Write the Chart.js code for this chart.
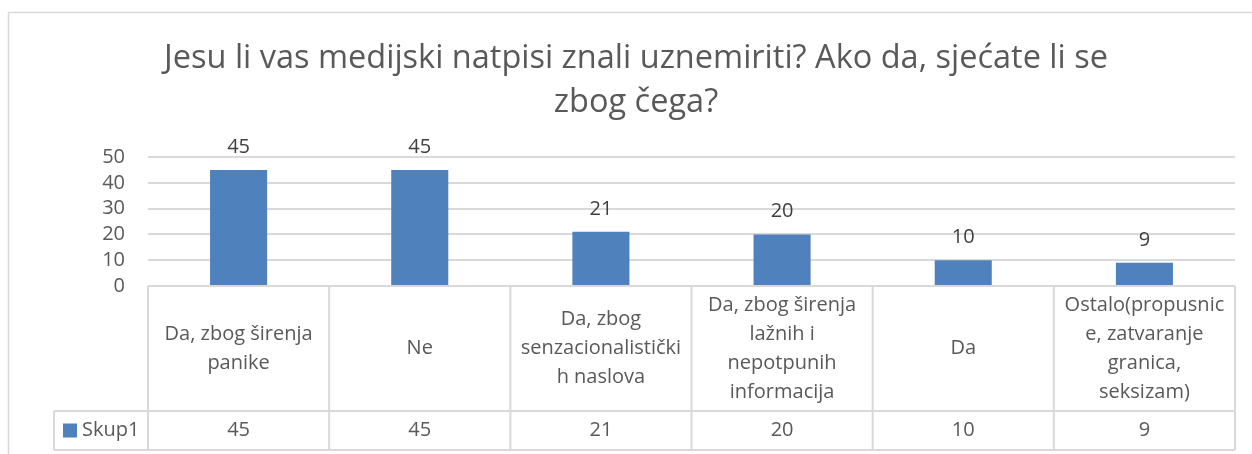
<!DOCTYPE html>
<html>
<head>
<meta charset="utf-8">
<script src="https://cdn.jsdelivr.net/npm/chart.js@4"></script>
<style>
  html, body { margin: 0; padding: 0; background: #ffffff; }
  #wrap { width: 1252px; height: 454px; }
</style>
</head>
<body>
<div id="wrap"><canvas id="chart" width="1252" height="454"></canvas></div>
<script>
// podaci
const titleLines = ['Jesu li vas medijski natpisi znali uznemiriti? Ako da, sjećate li se', 'zbog čega?'];
const categories = [
  ['Da, zbog širenja', 'panike'],
  ['Ne'],
  ['Da, zbog', 'senzacionalistički', 'h naslova'],
  ['Da, zbog širenja', 'lažnih i', 'nepotpunih', 'informacija'],
  ['Da'],
  ['Ostalo(propusnic', 'e, zatvaranje', 'granica,', 'seksizam)']
];
const seriesName = 'Skup1';
const values = [45, 45, 21, 20, 10, 9];
const yTicks = [0, 10, 20, 30, 40, 50];

const FONT = '"Open Sans", "Liberation Sans", sans-serif';
const TEXT = '#595959';
const LINE = '#d9d9d9';
const BAR = '#4f81bd';

// okvir i naslov
const framePlugin = {
  id: 'frame',
  beforeDraw(chart) {
    const ctx = chart.ctx;
    ctx.save();
    ctx.strokeStyle = LINE;
    ctx.lineWidth = 1.5;
    ctx.beginPath();
    ctx.moveTo(8.5, 454);
    ctx.lineTo(8.5, 12.5);
    ctx.lineTo(1252, 12.5);
    ctx.stroke();

    ctx.fillStyle = TEXT;
    ctx.font = '32.5px ' + FONT;
    ctx.textAlign = 'center';
    ctx.textBaseline = 'alphabetic';
    ctx.fillText(titleLines[0], 636, 68);
    ctx.fillText(titleLines[1], 636, 112);
    ctx.restore();
  }
};

// oznake iznad stupaca
const labelPlugin = {
  id: 'barLabels',
  afterDatasetsDraw(chart) {
    const ctx = chart.ctx;
    const meta = chart.getDatasetMeta(0);
    ctx.save();
    ctx.fillStyle = '#404040';
    ctx.font = '20px ' + FONT;
    ctx.textAlign = 'center';
    ctx.textBaseline = 'alphabetic';
    meta.data.forEach((bar, i) => {
      ctx.fillText(values[i], bar.x, bar.y - 17);
    });
    ctx.restore();
  }
};

// tablica podataka ispod osi
const tablePlugin = {
  id: 'dataTable',
  afterDraw(chart) {
    const ctx = chart.ctx;
    const x = chart.scales.x;
    const area = chart.chartArea;
    const n = categories.length;
    const colW = x.width / n;
    const top = area.bottom;
    const mid = top + 125;
    const bottom = top + 164;
    const legendLeft = 54;

    ctx.save();
    ctx.strokeStyle = LINE;
    ctx.lineWidth = 2;
    ctx.beginPath();
    for (let i = 0; i <= n; i++) {
      const bx = x.getPixelForValue(0) - colW / 2 + i * colW;
      ctx.moveTo(bx, top);
      ctx.lineTo(bx, bottom);
    }
    ctx.moveTo(legendLeft, mid);
    ctx.lineTo(area.right, mid);
    ctx.moveTo(legendLeft, bottom);
    ctx.lineTo(area.right, bottom);
    ctx.moveTo(legendLeft, mid);
    ctx.lineTo(legendLeft, bottom);
    ctx.stroke();

    ctx.fillStyle = TEXT;
    ctx.font = '20px ' + FONT;
    ctx.textAlign = 'center';
    ctx.textBaseline = 'middle';
    const cellMid = (top + mid) / 2;
    const rowMid = (mid + bottom) / 2;
    categories.forEach((lines, i) => {
      const cx = x.getPixelForValue(i);
      lines.forEach((t, k) => {
        ctx.fillText(t, cx, cellMid + (k - (lines.length - 1) / 2) * 29);
      });
      ctx.fillText(values[i], cx, rowMid);
    });

    // legenda u tablici
    ctx.fillStyle = BAR;
    ctx.fillRect(63, rowMid - 7, 14, 14);
    ctx.fillStyle = TEXT;
    ctx.textAlign = 'left';
    ctx.fillText(seriesName, 82, rowMid);
    ctx.restore();
  }
};

new Chart(document.getElementById('chart'), {
  type: 'bar',
  data: {
    labels: categories,
    datasets: [{
      label: seriesName,
      data: values,
      backgroundColor: BAR,
      categoryPercentage: 1,
      barPercentage: 0.315
    }]
  },
  options: {
    responsive: false,
    animation: false,
    devicePixelRatio: 1,
    layout: { padding: { left: 0, right: 17, top: 157, bottom: 168 } },
    plugins: {
      legend: { display: false },
      title: { display: false },
      tooltip: { enabled: false }
    },
    scales: {
      x: { display: false },
      y: {
        min: yTicks[0],
        max: yTicks[yTicks.length - 1],
        afterFit(scale) { scale.width = 148; },
        ticks: {
          stepSize: yTicks[1] - yTicks[0],
          autoSkip: false,
          padding: 23,
          color: TEXT,
          font: { family: FONT, size: 20 }
        },
        grid: { color: LINE, lineWidth: 2, drawTicks: false },
        border: { display: false }
      }
    }
  },
  plugins: [framePlugin, labelPlugin, tablePlugin]
});
</script>
</body>
</html>
